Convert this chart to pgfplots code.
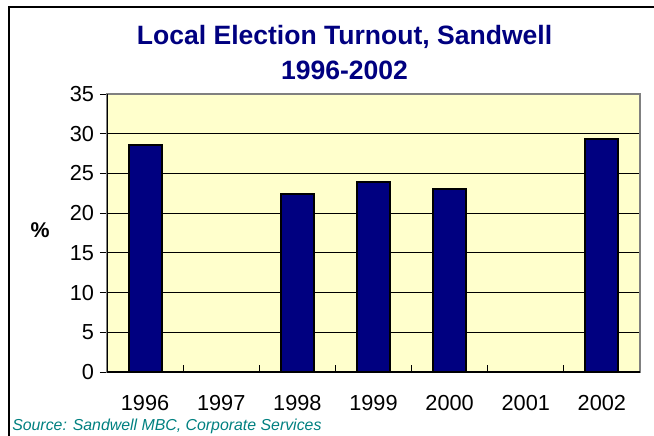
\documentclass[border=0pt]{standalone}
\usepackage{fontspec}
\setmainfont{Liberation Sans}
\usepackage{pgfplots}
\pgfplotsset{compat=1.18}
\definecolor{navyb}{RGB}{0,0,128}
\definecolor{bgyel}{RGB}{255,255,204}
\definecolor{tealsrc}{RGB}{0,128,128}
\begin{document}
\begin{tikzpicture}
\useasboundingbox (0,0) rectangle (490.5pt,327pt);
\begin{scope}
\clip (0,0) rectangle (490.5pt,327pt);
\draw[black,line width=1.1pt] (6.75pt,-5pt) -- (6.75pt,321.75pt) -- (500pt,321.75pt);
\end{scope}
\begin{axis}[
  at={(80.25pt,48pt)}, anchor=south west,
  width=399.75pt, height=208.5pt, scale only axis,
  xmin=-0.5, xmax=6.5, ymin=0, ymax=35,
  xtick={0,1,2,3,4,5,6},
  xticklabels={1996,1997,1998,1999,2000,2001,2002},
  minor xtick={0.5,1.5,2.5,3.5,4.5,5.5},
  ytick={0,5,10,15,20,25,30,35},
  xtick pos=bottom, ytick pos=left,
  tick align=outside,
  major tick length=5.25pt,
  minor tick length=5.25pt,
  major x tick style={draw=none},
  minor x tick style={black,line width=0.75pt,yshift=5.25pt},
  y tick style={black,line width=0.75pt},
  ymajorgrids,
  grid style={black,line width=0.75pt},
  axis line style={draw=gray,line width=1.5pt},
  axis background/.style={fill=bgyel},
  tick label style={font=\fontsize{16.3pt}{19pt}\selectfont},
  /pgf/number format/assume math mode=true,
  xticklabel style={yshift=-9pt},
  yticklabel style={xshift=-1pt},
  ybar, bar width=24.75pt,
]
\addplot[fill=navyb, draw=black, line width=1.5pt] coordinates {(0,28.6) (2,22.4) (3,23.9) (4,23.0) (6,29.3)};
\draw[black,line width=1pt] (rel axis cs:0,1) -- (rel axis cs:0,0) -- (rel axis cs:1,0);
\end{axis}
\node[anchor=base, text=navyb, font=\fontsize{19.9pt}{22pt}\selectfont\bfseries] at (258.4pt,293.25pt) {Local Election Turnout, Sandwell};
\node[anchor=base, text=navyb, font=\fontsize{19.9pt}{22pt}\selectfont\bfseries] at (258.4pt,267pt) {1996-2002};
\node[font=\fontsize{16pt}{18pt}\selectfont\bfseries] at (30pt,154.5pt) {\%};
\node[anchor=base west, inner sep=0pt, text=tealsrc, font=\fontsize{11.9pt}{13pt}\selectfont\itshape] at (9pt,4.5pt) {Source: Sandwell MBC, Corporate Services};
\end{tikzpicture}
\end{document}
